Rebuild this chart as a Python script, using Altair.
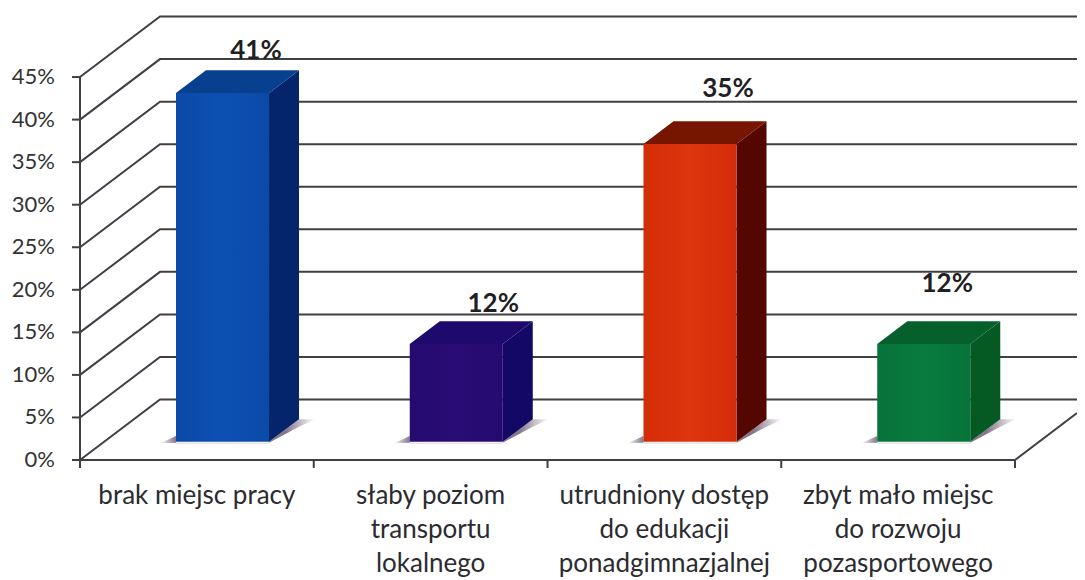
import altair as alt
import pandas as pd

# ---- chart values ----
categories = ["brak miejsc pracy", "słaby poziom\ntransportu\nlokalnego",
              "utrudniony dostęp\ndo edukacji\nponadgimnazjalnej",
              "zbyt mało miejsc\ndo rozwoju\npozasportowego"]
values = [41, 11.5, 35, 11.5]
value_labels = ["41%", "12%", "35%", "12%"]
y_ticks = [0, 5, 10, 15, 20, 25, 30, 35, 40, 45]
front_colors = [("#0b4aa6", "#0c51b2"), ("#250a70", "#290c75"), ("#d32c08", "#de360e"), ("#07733a", "#097b3e")]
top_colors = ["#07408f", "#1d0a6c", "#761600", "#05602c"]
side_colors = ["#04256c", "#130866", "#530700", "#045a22"]

# ---- 3-D projection, expressed in scale units ----
PLOT_W, PLOT_H = 997, 452
PX_CAT, PX_PCT = 233.75, 8.51
DEPTH_X, DEPTH_Y = 80 / PX_CAT, 60.5 / PX_PCT
X_MAX, Y_MAX = PLOT_W / PX_CAT, PLOT_H / PX_PCT
TICK_X, TICK_Y = 8 / PX_CAT, 8 / PX_PCT
sx = alt.Scale(domain=[0, X_MAX], nice=False, zero=False)
sy = alt.Scale(domain=[0, Y_MAX], nice=False, zero=False)
INK = "#3f3f46"
FONT = "Lato"
X = alt.X("x:Q", scale=sx, axis=None)
Y = alt.Y("y:Q", scale=sy, axis=None, stack=None)
Y2 = alt.Y2("yb:Q")


def px(i, t):
    return i + t * DEPTH_X


def py(v, t):
    return v + t * DEPTH_Y


def poly(rows, color):
    df = pd.DataFrame(rows, columns=["x", "y", "yb"])
    return alt.Chart(df).mark_area(color=color, orient="vertical").encode(x=X, y=Y, y2=Y2)


def fade(stops):
    return alt.LinearGradient(gradient="linear", x1=0, x2=1, y1=0, y2=0,
                              stops=[alt.GradientStop(offset=o, color=c) for o, c in stops])


layers = []

# wall and floor lines
grid_rows = []
for v in y_ticks:
    grid_rows += [dict(x=0, y=v, k=v), dict(x=DEPTH_X, y=py(v, 1), k=v), dict(x=X_MAX, y=py(v, 1), k=v)]
layers.append(alt.Chart(pd.DataFrame(grid_rows)).mark_line(color=INK, strokeWidth=2).encode(
    x=X, y=alt.Y("y:Q", scale=sy, axis=None), detail="k:N", order=alt.Order("x:Q")))

# axis lines and tick marks
n = len(categories)
frame = [
    dict(x=0, y=0, k="a"), dict(x=n, y=0, k="a"),
    dict(x=n, y=0, k="b"), dict(x=X_MAX, y=(X_MAX - n) / DEPTH_X * DEPTH_Y, k="b"),
    dict(x=0, y=-TICK_Y, k="c"), dict(x=0, y=45, k="c"),
]
for v in y_ticks:
    frame += [dict(x=-TICK_X, y=v, k=f"y{v}"), dict(x=0, y=v, k=f"y{v}")]
for c in range(n + 1):
    frame += [dict(x=c, y=0, k=f"x{c}"), dict(x=c, y=-TICK_Y, k=f"x{c}")]
layers.append(alt.Chart(pd.DataFrame(frame)).mark_line(color=INK, strokeWidth=2).encode(
    x=X, y=alt.Y("y:Q", scale=sy, axis=None), detail="k:N"))

# y tick labels
tick_df = pd.DataFrame({"x": [0] * len(y_ticks), "y": y_ticks, "t": [f"{v}%" for v in y_ticks]})
layers.append(alt.Chart(tick_df).mark_text(font=FONT, fontSize=22, color="#333333", align="right",
                                           baseline="middle", dx=-25).encode(
    x=X, y=alt.Y("y:Q", scale=sy, axis=None), text="t:N"))

# bars
T0, T1 = 0.3, 0.675
W0, W1 = 0.308, 0.706
FADE = "#ffffff"
MAUVE = "#85748a"
for i, v in enumerate(values):
    xl, xr = px(i + W0, T0), px(i + W1, T0)
    d = px(0, T1) - px(0, T0)
    yb0, yb1 = py(0, T0), py(0, T1)
    yt0, yt1 = py(v, T0), py(v, T1)
    ex = 16 / PX_CAT
    # soft shadow on the floor
    layers.append(poly([[xl - ex, yb0 - 0.15, yb0 - 0.15], [xl, yb0 - 0.1, yb0 + 0.7]],
                       fade([(0, FADE), (1, MAUVE)])))
    layers.append(poly([[xl, yb0 - 0.1, yb0 - 0.2], [xr, yb0 - 0.1, yb0 - 0.2]], "#cfc8d2"))
    layers.append(poly([[xr, yb0 - 0.1, yb0], [xr + d, yb0 + (yb1 - yb0) * 2 / 3, yb1], [xr + d + ex, yb1, yb1]],
                       fade([(0.35, MAUVE), (1, FADE)])))
    # side
    layers.append(poly([[xr, yb0, yt0], [xr + d, yb1, yt1]], side_colors[i]))
    # top
    layers.append(poly([[xl, yt0, yt0], [xl + d, yt0, yt1], [xr, yt0, yt1], [xr + d, yt1, yt1]], top_colors[i]))
    # front
    edge, mid = front_colors[i]
    layers.append(poly([[xl, yb0, yt0], [xr, yb0, yt0]], fade([(0, edge), (0.5, mid), (1, edge)])))

# data labels: anchored on the back edge of each bar's top
nudges = [(3.5, -11.5), (7, -9.5), (8, -24.5), (-6.5, -29.5)]
for i, v in enumerate(values):
    df = pd.DataFrame([dict(x=px(i + (W0 + W1) / 2, T1), y=py(v, T1), t=value_labels[i])])
    layers.append(alt.Chart(df).mark_text(font=FONT, fontSize=26, fontWeight="bold", color="#1f1f24",
                                          baseline="alphabetic", align="center",
                                          dx=nudges[i][0], dy=nudges[i][1]).encode(
        x=X, y=alt.Y("y:Q", scale=sy, axis=None), text="t:N"))

# category labels
cat_df = pd.DataFrame({"x": [i + 0.5 for i in range(n)], "t": categories})
layers.append(alt.Chart(cat_df).mark_text(font=FONT, fontSize=26, color="#2b2b30", baseline="alphabetic",
                                          align="center", lineBreak="\n", lineHeight=34).encode(
    x=X, y=alt.value(496), text="t:N"))

chart = alt.layer(*layers).properties(
    width=PLOT_W, height=PLOT_H,
    padding={"left": 72, "top": 0, "right": 0, "bottom": 120},
    autosize=alt.AutoSizeParams(type="none"),
    background="#ffffff",
).configure_view(stroke=None)

chart.save("out.html", embed_options={"renderer": "svg", "actions": False})
